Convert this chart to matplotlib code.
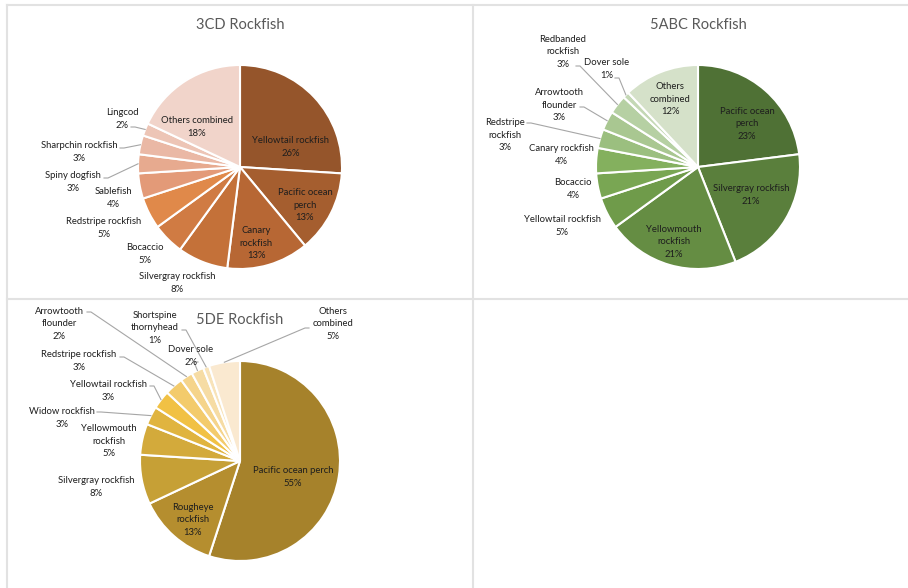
import math
import textwrap
import matplotlib.pyplot as plt

plt.rcParams['font.family'] = ['Lato', 'DejaVu Sans']

W, H = 908, 588

# 3CD catch composition (%)
cd_species = ['Yellowtail rockfish', 'Pacific ocean perch', 'Canary rockfish',
              'Silvergray rockfish', 'Bocaccio', 'Redstripe rockfish', 'Sablefish',
              'Spiny dogfish', 'Sharpchin rockfish', 'Lingcod', 'Others combined']
cd_share = [26, 13, 13, 8, 5, 5, 4, 3, 3, 2, 18]

# 5ABC catch composition (%)
abc_species = ['Pacific ocean perch', 'Silvergray rockfish', 'Yellowmouth rockfish',
               'Yellowtail rockfish', 'Bocaccio', 'Canary rockfish', 'Redstripe rockfish',
               'Arrowtooth flounder', 'Redbanded rockfish', 'Dover sole', 'Others combined']
abc_share = [23, 21, 21, 5, 4, 4, 3, 3, 3, 1, 12]

# 5DE catch composition (%)
de_species = ['Pacific ocean perch', 'Rougheye rockfish', 'Silvergray rockfish',
              'Yellowmouth rockfish', 'Widow rockfish', 'Yellowtail rockfish',
              'Redstripe rockfish', 'Arrowtooth flounder', 'Dover sole',
              'Shortspine thornyhead', 'Others combined']
de_share = [55, 13, 8, 5, 3, 3, 3, 2, 2, 1, 5]

cd_colors = ['#95552b', '#a55e2f', '#b76734', '#c47139', '#d07b43', '#e0894a',
             '#e39a78', '#e7aa8f', '#eab8a5', '#edc5b6', '#f1d4ca']
abc_colors = ['#4f7135', '#5a7f3c', '#658d43', '#6f9b4a', '#79a653', '#84b05e',
              '#9bbf7f', '#a9c791', '#b6d0a3', '#c4d8b5', '#d5e1c9']
de_colors = ['#a6822b', '#b58e2f', '#c6a036', '#d3aa3b', '#e0b43f', '#f1c144',
             '#f3cb6c', '#f5d48b', '#f6dca4', '#f8e3b9', '#fae9d0']

# panel layout: title position, pie centre and radius (pixels from top-left)
# label layout per slice: (x, y, wrap width, leader start or None)
panels = [
    dict(title='3CD Rockfish', title_xy=(240, 25), center=(240, 167), radius=102,
         species=cd_species, share=cd_share, colors=cd_colors,
         labels=[(291, 147, 30, None), (305, 205, 13, None), (256, 243, 8, None),
                 (177, 283, 30, None), (145, 254, 30, None), (104, 228, 30, None),
                 (113, 198, 30, None), (73, 182, 30, (104, 178)),
                 (79, 152, 30, (120, 148)), (122, 119, 30, (131, 127)),
                 (197, 127, 30, None)]),
    dict(title='5ABC Rockfish', title_xy=(698, 25), center=(698, 167), radius=102,
         species=abc_species, share=abc_share, colors=abc_colors,
         labels=[(747, 124, 13, None), (751, 195, 30, None), (674, 242, 12, None),
                 (562, 226, 30, None), (573, 189, 30, None), (561, 155, 30, None),
                 (505, 135, 10, (527, 123)), (559, 105, 11, (580, 107)),
                 (563, 52, 10, (576, 66)), (607, 69, 30, (615, 78)),
                 (670, 99, 8, None)]),
    dict(title='5DE Rockfish', title_xy=(240, 320), center=(240, 461), radius=100,
         species=de_species, share=de_share, colors=de_colors,
         labels=[(293, 477, 30, None), (193, 520, 10, None), (96, 487, 30, None),
                 (109, 441, 12, None), (62, 418, 30, (97, 412)),
                 (108, 391, 30, (150, 386)), (79, 361, 30, (120, 357)),
                 (59, 324, 11, (87, 312)), (191, 356, 30, (198, 362)),
                 (155, 328, 12, (182, 330)), (333, 324, 8, (309, 328))]),
]

fig = plt.figure(figsize=(W / 100, H / 100), dpi=100)
ax = fig.add_axes([0, 0, 1, 1])
ax.set_xlim(0, W)
ax.set_ylim(H, 0)

# cell borders of the chart grid
grid = '#e2e2e2'
ax.plot([7, W], [5, 5], color=grid, lw=1.5)
ax.plot([7, W], [299, 299], color=grid, lw=1.5)
ax.plot([7, 7], [5, H], color=grid, lw=1.5)
ax.plot([473, 473], [5, H], color=grid, lw=1.5)

for p in panels:
    cx, cy = p['center']
    r = p['radius']
    # y axis runs downward, so counterclock=True draws clockwise on screen
    wedges, _ = ax.pie(p['share'], colors=p['colors'], center=(cx, cy), radius=r,
                       startangle=-90, counterclock=True, frame=True,
                       wedgeprops=dict(edgecolor='white', linewidth=1.5))
    ax.text(*p['title_xy'], p['title'], ha='center', va='center',
            fontsize=10.5, color='#595959')

    for w, name, pct, (tx, ty, wrap, lead) in zip(wedges, p['species'], p['share'],
                                                 p['labels']):
        label = textwrap.fill(name, wrap) + f'\n{pct}%'
        ax.text(tx, ty, label, ha='center', va='center', multialignment='center',
                fontsize=6.8, color='#1e1e1e', linespacing=1.45)
        if lead is not None:
            # leader runs from the label to the outer edge of its slice
            a = math.radians((w.theta1 + w.theta2) / 2)
            ex, ey = cx + r * math.cos(a), cy + r * math.sin(a)
            sx, sy = lead
            kx = sx + 4 if ex > sx else sx - 4
            ax.plot([sx, kx, ex], [sy, sy, ey], color='#a6a6a6', lw=0.8)

ax.set_xlim(0, W)
ax.set_ylim(H, 0)
ax.axis('off')

fig.savefig('out.png', dpi=100, facecolor='white')
